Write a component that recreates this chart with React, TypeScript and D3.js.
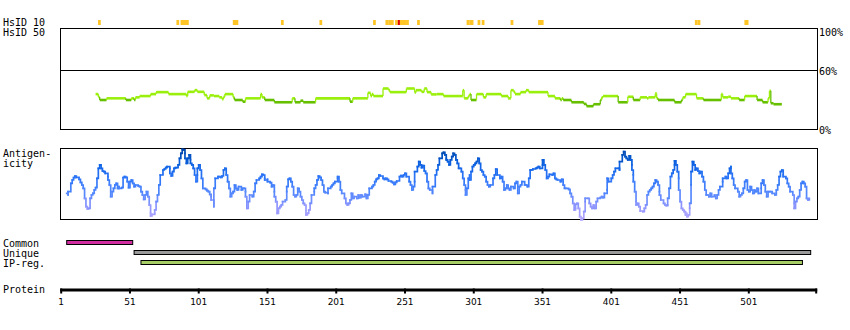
import React from 'react';
import * as d3 from 'd3';

// ---------- data ----------
const PROTEIN_LENGTH = 550;
const axisTicks = [1, 51, 101, 151, 201, 251, 301, 351, 401, 451, 501];

// HsID 10 hits: [startResidue, endResidue]
const hsid10Hits: [number, number][] = [
  [28, 29], [85, 86], [88, 93], [126, 129], [161, 162], [189, 190], [228, 229],
  [237, 238], [239, 242], [244, 245], [247, 251], [252, 253], [260, 261],
  [296, 297], [298, 300], [304, 305], [307, 308], [328, 329], [348, 351],
  [462, 463], [464, 465], [498, 500],
];
const hsid10Strong: [number, number][] = [[246, 246]];

// HsID 50 identity (%), step values: [residue, percent]
const hsid50: [number, number][] = [
  [26, 36], [28, 33], [29, 30], [34, 31.7], [48, 30], [52, 31.7], [54, 30], [55, 32.7],
  [58, 34], [66, 36], [70, 38], [79, 36], [92, 34], [93, 38.3], [98, 40], [100, 38.3],
  [105, 35], [107, 31.7], [109, 34.7], [112, 34], [116, 32.7], [118, 30.7], [119, 33.3],
  [120, 36], [126, 32.7], [127, 30], [133, 28.3], [135, 31.7], [146, 36], [147, 32.7],
  [149, 30], [156, 27.7], [169, 31.7], [171, 27.7], [175, 29.3], [177, 27.7], [186, 31.7],
  [211, 28.3], [213, 31.7], [224, 37.3], [226, 34], [227, 36], [228, 34], [235, 41.7],
  [239, 40], [240, 38], [252, 41.7], [258, 37.7], [259, 40], [263, 38.3], [265, 41.7],
  [267, 38], [270, 35.7], [274, 36], [279, 34], [293, 40], [294, 31.7], [297, 34],
  [298, 36], [299, 30], [303, 36], [308, 32.7], [310, 36], [321, 34], [326, 31.7],
  [328, 40], [330, 38.3], [331, 36], [335, 38], [339, 40], [341, 38], [355, 34],
  [360, 31.7], [364, 30], [365, 31.7], [366, 30], [372, 27.7], [381, 26], [383, 23.7],
  [388, 25.7], [393, 30], [394, 32.7], [395, 34], [406, 27.7], [413, 33.3], [417, 30],
  [422, 32.7], [427, 31.7], [428, 32.7], [433, 36.7], [434, 31.7], [435, 30], [447, 27.7],
  [452, 30], [453, 32.7], [455, 36], [463, 31.7], [468, 30], [481, 36], [482, 32.7],
  [486, 33.3], [488, 31.7], [494, 30], [498, 34], [507, 30], [511, 27.7], [515, 31.7],
  [516, 39.3], [517, 26.7], [519, 25.7],
];
const hsid50End = 525;
const hsid50Threshold = 30.5;

// Antigenicity score: [residue, score]
const antigenicity: [number, number][] = [
  [5, 8.0], [6, 7.5], [6, 8.5], [8, 11.0], [9, 12.0], [10, 12.7], [11, 13.2], [12, 12.8], [14, 12.2], [15, 11.3],
  [16, 10.5], [17, 9.5], [18, 6.5], [19, 4.0], [20, 3.3], [21, 3.5], [22, 6.5], [23, 7.5], [24, 8.0], [25, 9.0],
  [26, 9.7], [27, 12.5], [28, 15.5], [29, 16.5], [30, 15.5], [31, 14.7], [32, 14.5], [33, 14.0], [35, 13.0], [35, 12.0],
  [36, 10.5], [37, 7.0], [38, 8.5], [39, 9.5], [40, 10.5], [41, 11.0], [42, 9.5], [43, 10.0], [43, 9.5], [45, 9.7],
  [46, 12.7], [47, 13.0], [48, 12.8], [49, 11.5], [50, 9.7], [51, 11.5], [52, 12.0], [53, 11.0], [54, 10.0], [55, 10.5],
  [57, 10.2], [58, 10.0], [59, 8.5], [60, 7.5], [61, 6.2], [62, 7.5], [63, 8.5], [64, 7.0], [65, 4.5], [66, 2.0],
  [66, 1.2], [67, 1.7], [69, 2.0], [69, 3.0], [70, 5.5], [71, 7.5], [72, 10.5], [73, 13.5], [75, 15.0], [76, 15.3],
  [77, 15.7], [78, 16.0], [80, 15.5], [80, 14.0], [81, 13.2], [82, 14.5], [83, 15.5], [84, 15.7], [85, 15.7], [86, 16.5],
  [87, 18.5], [88, 20.0], [89, 21.2], [90, 21.0], [91, 20.0], [91, 18.5], [92, 17.0], [93, 18.5], [94, 19.5], [95, 18.0],
  [95, 17.0], [96, 16.5], [97, 15.5], [98, 13.5], [99, 11.5], [100, 13.5], [100, 15.5], [101, 16.5], [102, 15.0], [103, 12.5],
  [104, 9.5], [106, 9.2], [107, 8.8], [108, 8.5], [109, 7.7], [110, 7.0], [110, 6.0], [112, 4.0], [112, 9.5], [113, 12.5],
  [115, 13.0], [116, 13.0], [117, 12.8], [118, 13.2], [119, 15.0], [120, 15.5], [121, 13.5], [122, 11.5], [123, 9.5], [124, 7.0],
  [125, 8.0], [126, 8.5], [127, 10.5], [128, 9.5], [129, 9.0], [130, 10.0], [132, 9.0], [133, 9.5], [134, 9.5], [135, 8.5],
  [135, 7.0], [136, 3.5], [137, 5.5], [138, 7.5], [140, 7.0],
  [141, 8.5], [142, 11.0], [143, 12.0], [145, 12.5], [146, 13.0], [147, 13.7], [148, 13.5], [149, 12.5], [149, 12.0], [151, 12.2],
  [151, 11.5], [153, 11.2], [154, 10.0], [155, 10.5], [156, 8.5], [156, 7.0], [157, 5.5], [158, 2.0], [159, 3.5], [160, 4.0],
  [161, 4.5], [162, 5.5], [164, 6.0], [165, 8.5], [165, 10.0], [166, 12.2], [167, 12.5], [168, 11.5], [169, 10.0], [170, 7.5],
  [171, 7.0], [172, 7.5], [173, 9.5], [174, 8.5], [175, 7.0], [176, 6.0], [177, 5.0], [178, 4.5], [179, 1.5], [180, 2.0],
  [181, 3.0], [182, 5.0], [183, 7.5], [185, 8.5], [185, 9.5], [186, 10.5], [187, 12.0], [188, 13.2], [189, 12.8], [190, 12.0],
  [191, 10.5], [192, 8.5], [193, 8.2], [195, 8.0], [195, 9.5], [197, 10.0], [198, 10.5], [199, 11.0], [200, 11.5], [202, 12.5],
  [202, 13.0], [203, 11.5], [204, 9.0], [205, 8.0], [207, 6.5], [208, 5.0], [209, 4.5], [210, 5.0], [211, 6.0], [212, 8.0],
  [213, 6.5], [214, 7.0], [216, 6.5], [217, 7.5], [218, 6.7], [219, 7.5], [220, 7.0], [222, 7.7], [223, 6.5], [224, 7.5],
  [225, 9.5], [227, 10.0], [228, 10.5], [229, 11.5], [230, 12.2], [231, 12.5], [232, 13.5], [233, 13.2], [235, 12.5], [236, 12.2],
  [237, 12.5], [238, 12.2], [239, 11.7], [241, 11.5], [242, 11.2], [243, 10.7], [244, 11.3], [245, 11.7], [247, 13.0], [248, 13.3],
  [249, 13.0], [250, 13.5], [251, 14.0], [252, 13.0], [254, 11.5], [255, 10.5], [256, 9.0], [257, 10.0], [258, 11.5], [258, 14.5],
  [260, 16.0], [261, 17.5], [262, 16.5], [263, 15.7], [264, 16.3], [265, 14.7], [266, 14.0], [267, 11.5], [268, 9.5], [269, 9.0],
  [271, 8.0], [271, 10.0], [273, 13.5], [274, 15.0], [275, 16.5], [276, 18.5],
  [278, 20.0], [279, 20.3], [280, 19.5], [281, 18.5], [281, 18.0], [282, 17.5], [283, 16.5], [284, 18.0], [285, 19.0], [286, 20.0],
  [287, 19.5], [288, 18.0], [289, 17.0], [290, 15.5], [291, 15.5], [292, 14.5], [293, 12.5], [294, 10.5], [295, 9.0], [295, 7.5],
  [296, 9.5], [297, 12.5], [298, 13.5], [298, 12.0], [299, 14.5], [300, 16.0], [301, 16.5], [302, 17.0], [303, 17.5], [304, 18.5],
  [305, 17.0], [306, 15.0], [307, 14.5], [308, 13.5], [309, 13.0], [310, 11.5], [311, 10.5], [312, 10.0], [313, 10.5], [315, 12.5],
  [316, 13.5], [317, 15.3], [318, 13.5], [320, 12.5], [321, 13.0], [322, 11.5], [323, 9.0], [324, 9.5], [325, 10.5], [326, 9.5],
  [327, 9.0], [328, 10.0], [330, 9.5], [331, 11.0], [332, 11.5], [333, 8.0], [334, 10.0], [335, 10.5], [336, 11.5], [338, 10.5],
  [339, 10.5], [340, 10.0], [341, 12.5], [342, 15.0], [343, 15.0], [344, 15.3], [346, 15.5], [347, 15.7], [348, 16.0], [349, 15.5],
  [351, 16.5], [351, 18.0], [352, 16.5], [353, 15.0], [354, 12.5], [355, 13.0], [356, 13.7], [358, 13.5], [359, 14.0], [360, 12.5],
  [361, 12.2], [362, 12.0], [364, 11.5], [365, 12.2], [366, 10.5], [367, 9.5], [368, 9.5], [370, 9.2], [371, 8.0], [372, 7.0],
  [373, 5.0], [374, 3.0], [375, 3.5], [375, 4.7], [376, 5.0], [377, 3.5], [378, 1.0], [379, 0.0], [380, 0.5], [381, 2.5],
  [382, 5.5], [382, 6.5], [384, 6.5], [385, 5.0], [386, 4.0], [387, 3.5], [388, 4.5], [389, 3.5], [390, 5.5], [391, 6.5],
  [393, 6.7], [394, 7.0], [395, 6.7], [396, 8.0], [398, 9.0], [398, 12.5], [399, 11.5], [401, 12.5], [402, 13.5], [403, 14.5],
  [404, 15.5], [406, 15.5], [407, 15.0], [407, 17.5], [409, 19.5], [410, 20.5], [411, 19.0], [412, 18.5], [413, 18.0],
  [414, 19.2], [415, 18.0], [416, 16.5], [416, 15.0], [417, 13.5], [417, 11.5], [418, 8.5], [419, 5.5], [419, 4.5], [420, 5.0],
  [421, 4.0], [422, 2.7], [424, 2.5], [425, 2.7], [425, 3.5], [426, 4.5], [427, 7.5], [428, 8.5], [429, 9.0], [430, 9.5],
  [431, 10.0], [432, 11.0], [433, 12.0], [434, 11.5], [435, 10.5], [436, 8.5], [436, 7.5], [437, 6.0], [439, 5.0], [440, 4.5],
  [441, 4.3], [442, 4.5], [442, 6.5], [443, 9.5], [444, 13.0], [445, 14.0], [446, 15.0], [447, 16.5], [447, 17.7], [448, 16.5],
  [449, 14.5], [450, 12.5], [450, 9.0], [451, 5.5], [452, 3.5], [453, 3.0], [454, 2.5], [455, 1.5], [455, 2.0], [456, 1.0],
  [457, 1.5], [458, 3.5], [458, 5.0], [459, 10.5], [459, 14.5], [460, 17.5], [461, 16.5], [462, 15.0], [463, 15.5], [464, 14.7],
  [465, 14.0], [466, 14.5], [467, 13.0], [468, 11.5], [469, 9.0], [470, 7.5], [471, 7.5], [472, 7.0], [473, 8.0], [474, 7.0],
  [476, 7.5], [477, 6.5], [478, 7.5], [479, 9.0], [480, 10.0], [482, 11.5], [482, 12.5], [484, 13.0], [485, 12.5], [486, 14.0],
  [487, 15.5], [488, 16.0], [488, 14.0], [489, 12.5], [490, 10.5], [491, 9.5], [493, 8.5], [494, 7.0], [495, 7.5], [496, 8.0],
  [497, 9.5], [498, 11.5], [499, 12.0], [500, 9.0], [501, 8.5], [502, 10.0], [503, 9.0], [504, 8.0], [505, 9.0], [506, 8.5],
  [507, 9.5], [508, 8.0], [510, 9.5], [510, 11.0], [511, 12.0], [512, 10.5], [513, 8.5], [514, 7.0], [515, 8.5], [516, 8.5],
  [517, 8.5], [518, 8.0], [520, 7.5], [521, 9.0], [522, 10.5], [523, 13.0], [524, 14.5], [525, 15.0], [526, 13.5], [526, 13.0],
  [528, 12.5], [529, 11.0], [530, 10.0], [531, 8.5], [533, 7.5], [534, 5.0], [534, 3.5], [535, 5.5], [536, 6.5], [537, 7.0],
  [538, 9.0], [539, 11.0], [540, 11.5], [541, 11.0], [542, 10.0], [543, 6.5], [544, 6.0], [545, 6.5],
];
const antigenicityMax = 21.5;

const regionNames = ['Common', 'Unique', 'IP-reg.'];
const regionStarts = [5, 54, 59];
const regionEnds = [53, 546, 540];

const identityTicks = [100, 60, 0];

// ---------- styles ----------
const MONO = '"DejaVu Sans Mono", monospace';
const SANS = '"DejaVu Sans", sans-serif';
const regionColors = ['#d02ca0', '#9a9a9a', '#a6cc66'];
const HIT_COLOR = '#ffc526';
const HIT_STRONG = '#e00000';
const LIGHT_GREEN = '#9af00c';
const DARK_GREEN = '#66c000';

export default function App() {
  const x = d3.scaleLinear().domain([1, PROTEIN_LENGTH]).range([61.2, 816.2]);
  const k = x(2) - x(1);
  const yId = d3.scaleLinear().domain([0, 60, 100]).range([129.5, 70.5, 28.5]);
  const yAg = d3.scaleLinear().domain([0, antigenicityMax]).range([220, 148.3]);
  const agColor = d3
    .scaleLinear<string>()
    .domain([0, 4, 8, 13, 17, 21])
    .range(['#b8a8ff', '#9096ff', '#5588ff', '#2a74f6', '#0a60e0', '#0046a8'])
    .clamp(true);

  const seg = d3.line<[number, number]>().x((d) => x(d[0])).y((d) => yId(d[1]));
  const agSeg = d3
    .line<[number, number]>()
    .x((d) => x(d[0]))
    .y((d) => yAg(d[1]))
    .curve(d3.curveStepAfter);

  const boxL = 60.5;
  const boxR = 817.5;

  return (
    <svg width={850} height={330} style={{ position: 'absolute', left: 0, top: 0, background: '#fff' }}>
      {/* left labels */}
      <g fontFamily={MONO} fontSize={10} fill="#000">
        <text x={3} y={26}>HsID 10</text>
        <text x={3} y={36}>HsID 50</text>
        <text x={3} y={157}>Antigen-</text>
        <text x={3} y={166.5}>icity</text>
        {regionNames.map((n, i) => (
          <text key={n} x={3} y={246.5 + i * 10}>{n}</text>
        ))}
        <text x={3} y={293}>Protein</text>
      </g>

      {/* HsID 10 hits */}
      {hsid10Hits.map(([s, e], i) => (
        <rect key={'h' + i} x={x(s) - 0.3} y={20} width={(e - s + 1) * k} height={5} fill={HIT_COLOR} />
      ))}
      {hsid10Strong.map(([s, e], i) => (
        <rect key={'hs' + i} x={x(s) - 0.3} y={20} width={Math.max(2, (e - s + 1) * k)} height={5} fill={HIT_STRONG} />
      ))}

      {/* HsID 50 box */}
      <rect x={boxL} y={yId(100)} width={boxR - boxL} height={yId(0) - yId(100)} fill="none" stroke="#000" strokeWidth={1} />
      <line x1={boxL} x2={boxR} y1={yId(60)} y2={yId(60)} stroke="#000" strokeWidth={1} />
      <g fontFamily={MONO} fontSize={10} fill="#000">
        {identityTicks.map((t) => (
          <text key={t} x={819} y={yId(t) + (t === 0 ? 4 : t === 100 ? 7.5 : 4)}>{t}%</text>
        ))}
      </g>

      {/* HsID 50 line */}
      {hsid50.map((d, i) => {
        const next = i < hsid50.length - 1 ? hsid50[i + 1] : null;
        const endR = next ? next[0] : hsid50End;
        const col = d[1] < hsid50Threshold ? DARK_GREEN : LIGHT_GREEN;
        return (
          <g key={'g' + i}>
            <path d={seg([[d[0], d[1]], [endR, d[1]]]) || ''} stroke={col} strokeWidth={2.6} fill="none" />
            {next && (
              <path
                d={seg([[next[0], d[1]], [next[0], next[1]]]) || ''}
                stroke={next[1] < hsid50Threshold ? DARK_GREEN : LIGHT_GREEN}
                strokeWidth={1.3}
                fill="none"
              />
            )}
          </g>
        );
      })}

      {/* Antigenicity box */}
      <rect x={boxL} y={148.5} width={boxR - boxL} height={71} fill="none" stroke="#000" strokeWidth={1} />
      {antigenicity.slice(0, -1).map((d, i) => {
        const n = antigenicity[i + 1];
        return (
          <path
            key={'a' + i}
            d={agSeg([d, n]) || ''}
            stroke={agColor((d[1] + n[1]) / 2)}
            strokeWidth={1.7}
            strokeLinecap="square"
            fill="none"
          />
        );
      })}

      {/* regions */}
      {regionNames.map((n, i) => (
        <rect
          key={'r' + n}
          x={x(regionStarts[i])}
          y={240.5 + i * 10}
          width={x(regionEnds[i]) - x(regionStarts[i])}
          height={4}
          fill={regionColors[i]}
          stroke="#000"
          strokeWidth={1}
        />
      ))}

      {/* protein axis */}
      <rect x={x(1) - 1} y={288.5} width={x(PROTEIN_LENGTH) - x(1) + 2} height={3} fill="#000" />
      {[...axisTicks, PROTEIN_LENGTH].map((t) => (
        <rect key={'t' + t} x={x(t) - 1} y={288.5} width={2} height={5} fill="#000" />
      ))}
      <g fontFamily={SANS} fontSize={9} fill="#000" textAnchor="middle">
        {axisTicks.map((t) => (
          <text key={'l' + t} x={x(t)} y={305}>{t}</text>
        ))}
      </g>
    </svg>
  );
}
